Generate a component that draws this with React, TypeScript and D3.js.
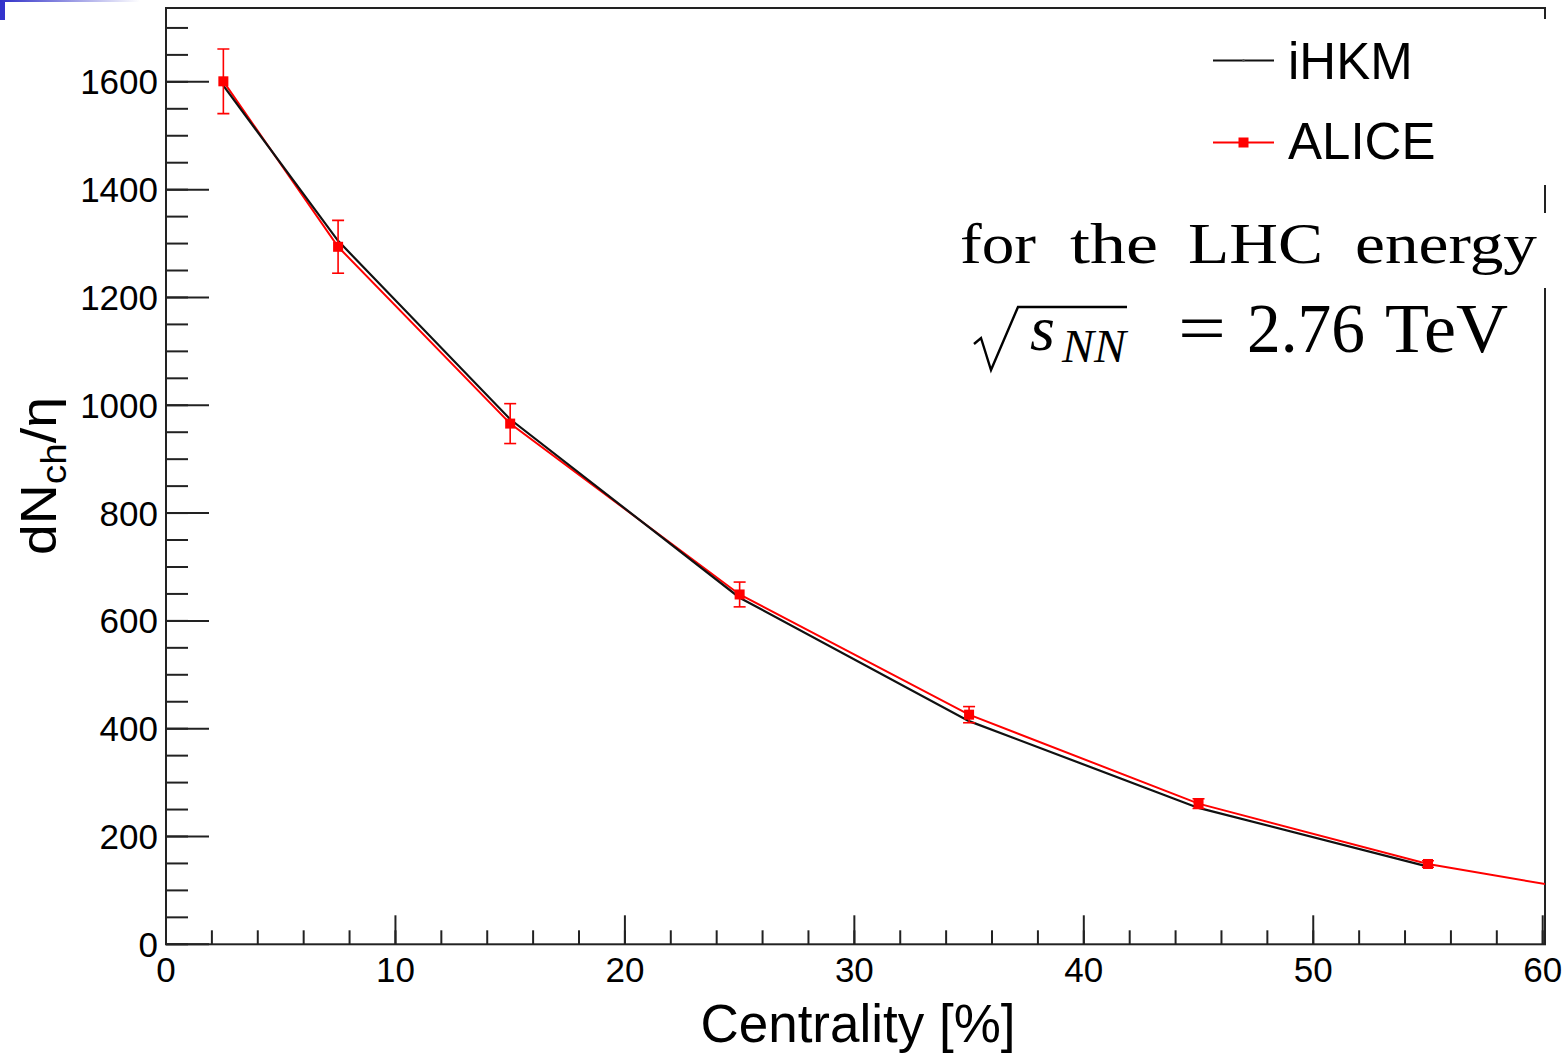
import React from "react";
import * as d3 from "d3";

// ---- data ----
const ihkmCentrality = [2.5, 7.5, 15, 25, 35, 45, 55];
const ihkmValues = [1593, 1305, 974, 643, 414, 253, 144];
const aliceCentrality = [2.5, 7.5, 15, 25, 35, 45, 55, 65];
const aliceValues = [1601, 1294, 966, 649, 426, 261, 149, 76];
const aliceErrors = [60, 49, 37, 23, 15, 9, 6, 4];
const xMajorTicks = [0, 10, 20, 30, 40, 50, 60];
const yMajorTicks = [0, 200, 400, 600, 800, 1000, 1200, 1400, 1600];
const legendLabels = ["iHKM", "ALICE"];

const W = 1567;
const H = 1057;
const L = 166, R = 1545, T = 8, B = 944.3;

export default function App() {
  const x = d3.scaleLinear().domain([0, 60.1]).range([L, R]);
  const y = d3.scaleLinear().domain([0, 1737]).range([B, T]);
  const xMinor = d3.range(0, 60.01, 2);
  const yMinor = d3.range(0, 1737, 50);

  const ihkm = ihkmCentrality.map((c, i) => [c, ihkmValues[i]] as [number, number]);
  const alice = aliceCentrality.map((c, i) => ({ c, v: aliceValues[i], e: aliceErrors[i] }));
  const line = d3.line<[number, number]>().x((d) => x(d[0])).y((d) => y(d[1]));
  const aliceLine = line(alice.map((d) => [d.c, d.v] as [number, number])) || "";
  const ihkmLine = line(ihkm) || "";

  const sans = "'Liberation Sans', Arial, Helvetica, sans-serif";
  const serif = "'Liberation Serif', 'Times New Roman', 'DejaVu Serif', serif";
  const red = "#ff0000";
  const tickCol = "#222";

  return (
    <svg width={W} height={H} style={{ position: "absolute", left: 0, top: 0, background: "#fff" }}>
      <defs>
        <clipPath id="plotClip">
          <rect x={L} y={T} width={R - L} height={B - T} />
        </clipPath>
        <linearGradient id="blueFade" x1="0" x2="1" y1="0" y2="0">
          <stop offset="0" stopColor="#2f2fc8" />
          <stop offset="1" stopColor="#ffffff" />
        </linearGradient>
      </defs>
      <rect x={0} y={0} width={W} height={H} fill="#fff" />
      {/* corner decoration */}
      <rect x={0} y={0} width={5} height={20} fill="#3333cc" />
      <rect x={0} y={0} width={140} height={2} fill="url(#blueFade)" />

      {/* minor ticks */}
      {yMinor.map((v) => (
        <line key={"ym" + v} x1={L} x2={L + 22} y1={y(v)} y2={y(v)} stroke={tickCol} strokeWidth={2} />
      ))}
      {yMajorTicks.map((v) => (
        <line key={"yM" + v} x1={L} x2={L + 43} y1={y(v)} y2={y(v)} stroke={tickCol} strokeWidth={2} />
      ))}
      {xMinor.map((v) => (
        <line key={"xm" + v} x1={x(v)} x2={x(v)} y1={B} y2={B - 14} stroke={tickCol} strokeWidth={2} />
      ))}
      {xMajorTicks.map((v) => (
        <line key={"xM" + v} x1={x(v)} x2={x(v)} y1={B} y2={B - 29} stroke={tickCol} strokeWidth={2} />
      ))}

      {/* frame */}
      <rect x={L} y={T} width={R - L} height={B - T} fill="none" stroke={tickCol} strokeWidth={2} />

      {/* data */}
      <g clipPath="url(#plotClip)">
        <path d={aliceLine} fill="none" stroke={red} strokeWidth={2} />
        <path d={ihkmLine} fill="none" stroke="#111" strokeWidth={2.2} />
        {alice.map((d, i) => (
          <g key={"a" + i}>
            <line x1={x(d.c)} x2={x(d.c)} y1={y(d.v + d.e)} y2={y(d.v - d.e)} stroke={red} strokeWidth={1.6} />
            <line x1={x(d.c) - 6} x2={x(d.c) + 6} y1={y(d.v + d.e)} y2={y(d.v + d.e)} stroke={red} strokeWidth={1.6} />
            <line x1={x(d.c) - 6} x2={x(d.c) + 6} y1={y(d.v - d.e)} y2={y(d.v - d.e)} stroke={red} strokeWidth={1.6} />
            <rect x={x(d.c) - 5} y={y(d.v) - 5} width={10} height={10} fill={red} />
          </g>
        ))}
      </g>

      {/* legend + text background (hides frame) */}
      <rect x={1190} y={19} width={377} height={166} fill="#fff" />
      <rect x={950} y={213} width={617} height={75} fill="#fff" />

      {/* legend */}
      <line x1={1213} x2={1274} y1={60.5} y2={60.5} stroke="#111" strokeWidth={2} />
      <circle cx={1243.5} cy={60.5} r={1.2} fill="#555" />
      <text x={1288} y={78.5} fontFamily={sans} fontSize={51} fill="#000">{legendLabels[0]}</text>
      <line x1={1213} x2={1274} y1={142.5} y2={142.5} stroke={red} strokeWidth={2} />
      <rect x={1238.5} y={137.5} width={10} height={10} fill={red} />
      <text x={1288} y={158.5} fontFamily={sans} fontSize={51} fill="#000">{legendLabels[1]}</text>

      {/* annotation */}
      <g fontFamily={serif} fill="#000">
        <text x={960} y={263} fontSize={58} textLength={76} lengthAdjust="spacingAndGlyphs">for</text>
        <text x={1070} y={263} fontSize={58} textLength={88} lengthAdjust="spacingAndGlyphs">the</text>
        <text x={1188} y={263} fontSize={58} textLength={135} lengthAdjust="spacingAndGlyphs">LHC</text>
        <text x={1355} y={263} fontSize={58} textLength={182} lengthAdjust="spacingAndGlyphs">energy</text>
        <path d="M974,344 L981,338 L991,370 L1018,307 L1127,307" fill="none" stroke="#000" strokeWidth={2.4} strokeLinejoin="miter" />
        <text x={1030} y={350} fontSize={64} fontStyle="italic">s</text>
        <text x={1062} y={362} fontSize={46} fontStyle="italic" textLength={64} lengthAdjust="spacingAndGlyphs">NN</text>
        <text x={1178} y={352} fontSize={70} textLength={48} lengthAdjust="spacingAndGlyphs">=</text>
        <text x={1247} y={352} fontSize={70} textLength={118} lengthAdjust="spacingAndGlyphs">2.76</text>
        <text x={1385} y={352} fontSize={70} textLength={123} lengthAdjust="spacingAndGlyphs">TeV</text>
      </g>

      {/* tick labels */}
      {yMajorTicks.map((v) => (
        <text key={"yl" + v} x={158} y={y(v)} dy="0.36em" textAnchor="end" fontFamily={sans} fontSize={35} fill="#000">
          {v}
        </text>
      ))}
      {xMajorTicks.map((v) => (
        <text key={"xl" + v} x={x(v)} y={982} textAnchor="middle" fontFamily={sans} fontSize={35} fill="#000">
          {v}
        </text>
      ))}

      {/* axis titles */}
      <text x={858} y={1042} textAnchor="middle" fontFamily={sans} fontSize={53} fill="#000">Centrality [%]</text>
      <g transform="translate(56,476) rotate(-90)">
        <text x={0} y={0} textAnchor="middle" fontFamily={sans} fill="#000" textLength={158} lengthAdjust="spacingAndGlyphs">
          <tspan fontSize={50}>dN</tspan>
          <tspan fontSize={35} dy={10}>ch</tspan>
          <tspan fontSize={50} dy={-10}>/η</tspan>
        </text>
      </g>
    </svg>
  );
}
